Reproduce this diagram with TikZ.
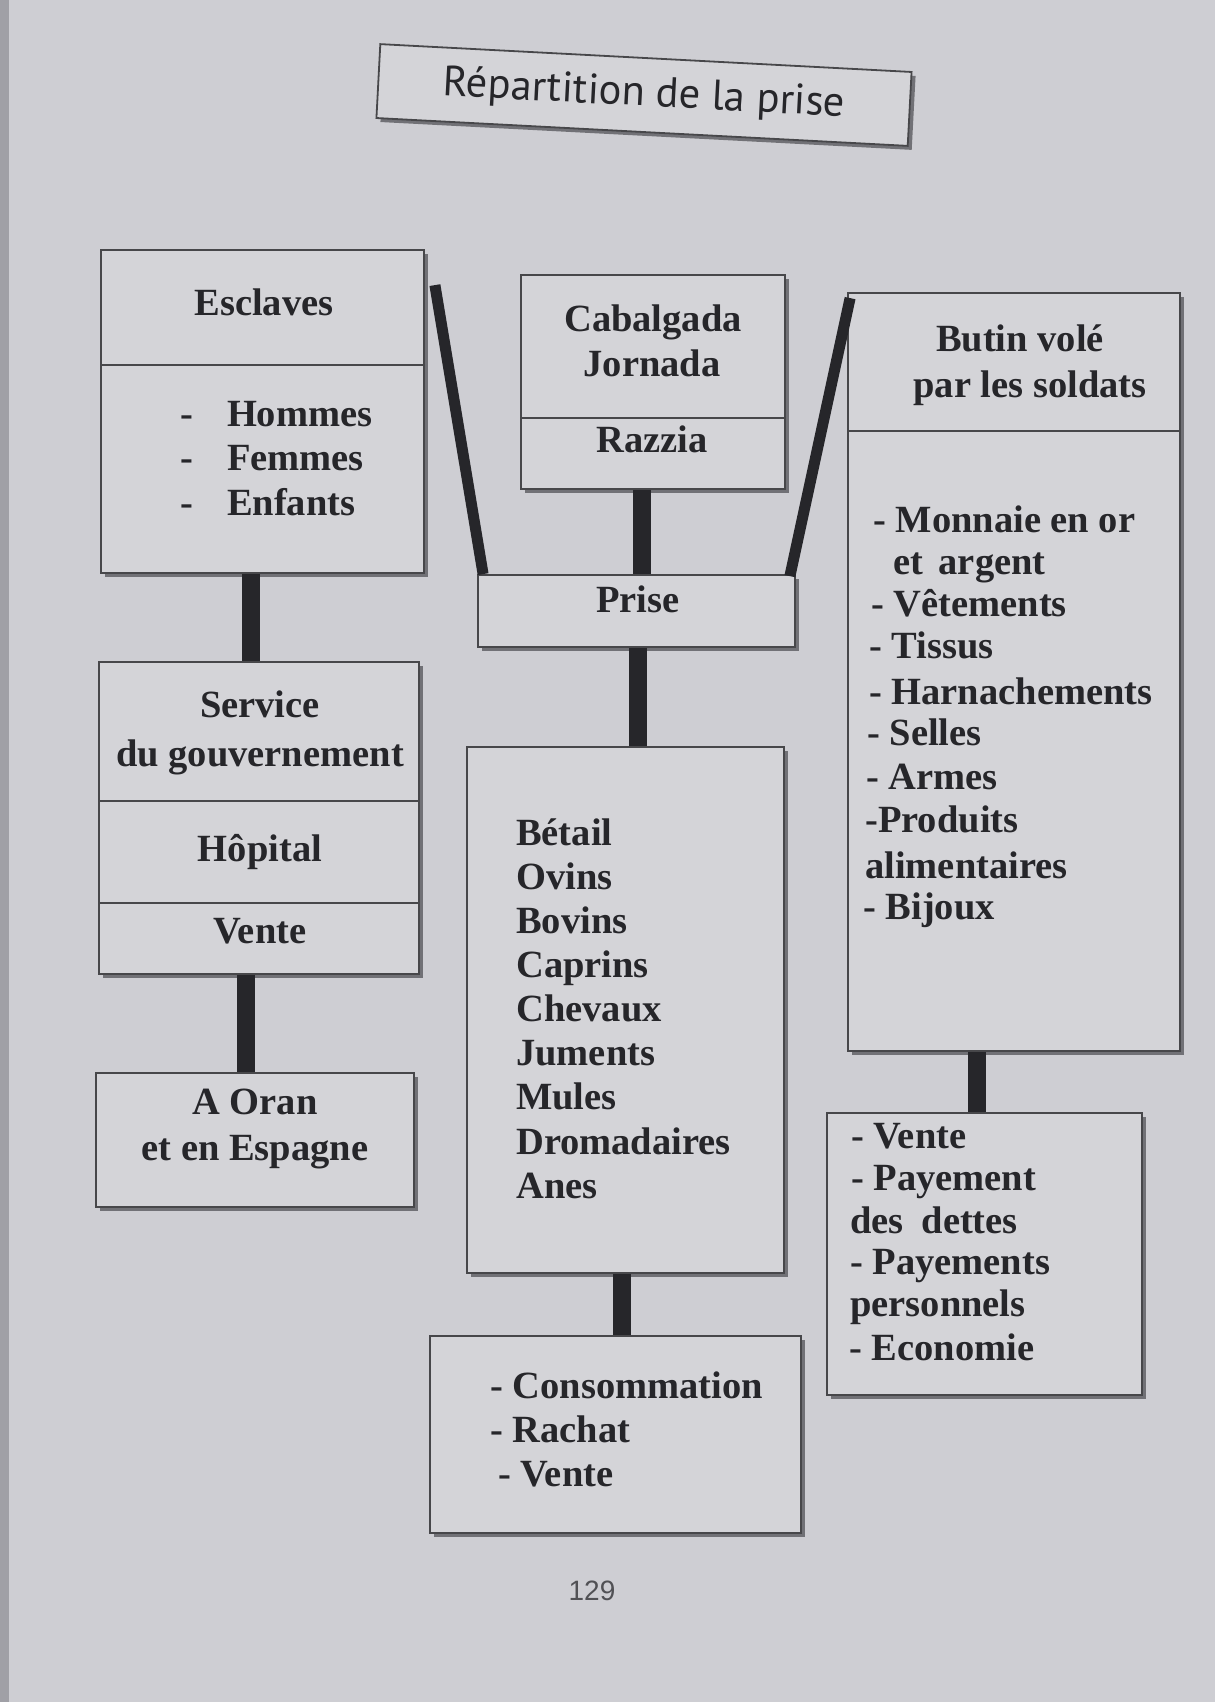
\documentclass[tikz,border=0pt]{standalone}
\usepackage{fontspec}
\setmainfont{Liberation Serif}
\newfontfamily\titlefont{PT Sans}
\newfontfamily\pagenumfont{Liberation Sans}
\usetikzlibrary{shadows,calc}
\definecolor{paper}{RGB}{206,206,211}
\definecolor{boxfill}{RGB}{212,212,216}
\definecolor{ink}{RGB}{38,38,42}
\definecolor{pageedge}{RGB}{160,160,166}
\begin{document}
\begin{tikzpicture}[x=1pt,y=-1pt,
  box/.style={draw=ink!85, line width=1.8pt, fill=boxfill, inner sep=0pt,
     drop shadow={shadow xshift=4pt, shadow yshift=-4pt, fill=ink, opacity=0.55}},
  divider/.style={draw=ink!85, line width=1.8pt},
  link/.style={draw=ink, line width=18pt},
  diag/.style={draw=ink, line width=11pt},
  txt/.style={font=\bfseries\fontsize{38.5}{44}\selectfont, text=ink, inner sep=0pt, text height=27pt, text depth=9pt},
  ltxt/.style={txt, anchor=west},
]
\useasboundingbox (0,0) rectangle (1215,1702);
\fill[paper] (0,0) rectangle (1215,1702);
\fill[pageedge] (0,0) rectangle (9,1702);

% title
\node[box, minimum width=532pt, minimum height=74pt, rotate=-3,
      font=\titlefont\fontsize{42.5}{46}\selectfont, text=ink] (title) at (644,95) {Répartition de la prise};

% boxes
\node[box, minimum width=323pt, minimum height=323pt] (esc) at (262.5,411.5) {};
\node[box, minimum width=320pt, minimum height=312pt] (srv) at (259,818) {};
\node[box, minimum width=318pt, minimum height=134pt] (oran) at (255,1140) {};
\node[box, minimum width=264pt, minimum height=214pt] (cab) at (653,382) {};
\node[box, minimum width=317pt, minimum height=72pt] (prise) at (636.5,611) {};
\node[box, minimum width=317pt, minimum height=526pt] (bet) at (625.5,1010) {};
\node[box, minimum width=371pt, minimum height=197pt] (cons) at (615.5,1434.5) {};
\node[box, minimum width=332pt, minimum height=758pt] (butin) at (1014,672) {};
\node[box, minimum width=315pt, minimum height=282pt] (vente) at (984.5,1254) {};

% dividers
\draw[divider] (esc.west |- 0,365) -- (esc.east |- 0,365);
\draw[divider] (srv.west |- 0,801) -- (srv.east |- 0,801);
\draw[divider] (srv.west |- 0,903) -- (srv.east |- 0,903);
\draw[divider] (cab.west |- 0,418) -- (cab.east |- 0,418);
\draw[divider] (butin.west |- 0,431) -- (butin.east |- 0,431);

% connectors
\draw[link] (esc.south -| 251,0) -- (srv.north -| 251,0);
\draw[link] (srv.south -| 246,0) -- (oran.north -| 246,0);
\draw[link] (cab.south -| 642,0) -- (prise.north -| 642,0);
\draw[link] (prise.south -| 638,0) -- (bet.north -| 638,0);
\draw[link] (bet.south -| 622,0) -- (cons.north -| 622,0);
\draw[link] (butin.south -| 977,0) -- (vente.north -| 977,0);
\draw[diag] ($(esc.north east)+(10,36)$) -- ($(prise.north west)+(6,0)$);
\draw[diag] ($(butin.north west)+(3,6)$) -- ($(prise.north east)+(-6,2)$);

% Esclaves
\node[txt] (t1) at (264,306) {Esclaves};
\node[ltxt] (t2) at (180,417) {-\hspace{34pt}Hommes};
\node[ltxt] (t3) at (180,461) {-\hspace{34pt}Femmes};
\node[ltxt] (t4) at (180,506) {-\hspace{34pt}Enfants};

% Service
\node[txt] (t5) at (260,708) {Service};
\node[txt] (t6) at (260,757) {du gouvernement};
\node[txt] (t7) at (260,852) {Hôpital};
\node[txt] (t8) at (260,934) {Vente};
\node[txt] (t9) at (255,1105) {A Oran};
\node[txt] (t10) at (255,1151) {et en Espagne};

% Cabalgada
\node[txt] (t11) at (653,322) {Cabalgada};
\node[txt] (t12) at (652,367) {Jornada};
\node[txt] (t13) at (652,443) {Razzia};
\node[txt] (t14) at (638,603) {Prise};

% Betail
\foreach \w [count=\i] in {Bétail,Ovins,Bovins,Caprins,Chevaux,Juments,Mules,Dromadaires,Anes}
  \node[ltxt] (b\i) at (516,{836+44.15*(\i-1)}) {\w};

% Consommation
\node[ltxt] (c1) at (490,1389) {- Consommation};
\node[ltxt] (c2) at (490,1433) {- Rachat};
\node[ltxt] (c3) at (498,1477) {- Vente};

% Butin
\node[txt] (u1) at (1020,342) {Butin volé};
\node[txt] (u2) at (1030,388) {par les soldats};
\node[ltxt] (u3) at (873,523) {- Monnaie en or};
\node[ltxt] (u4) at (893,565) {et\hspace{6pt} argent};
\node[ltxt] (u5) at (871,607) {- Vêtements};
\node[ltxt] (u6) at (869,649) {- Tissus};
\node[ltxt] (u7) at (869,695) {- Harnachements};
\node[ltxt] (u8) at (867,736) {- Selles};
\node[ltxt] (u9) at (866,780) {- Armes};
\node[ltxt] (u10) at (865,823) {-Produits};
\node[ltxt] (u11) at (865,869) {alimentaires};
\node[ltxt] (u12) at (863,910) {- Bijoux};

% Vente
\node[ltxt] (v1) at (851,1139) {- Vente};
\node[ltxt] (v2) at (851,1181) {- Payement};
\node[ltxt] (v3) at (850,1224) {des\hspace{18pt}dettes};
\node[ltxt] (v4) at (850,1265) {- Payements};
\node[ltxt] (v5) at (850,1307) {personnels};
\node[ltxt] (v6) at (849,1351) {- Economie};

% page number
\node[font=\pagenumfont\fontsize{28}{30}\selectfont, text=ink!80] (pn) at (592,1591) {129};
\end{tikzpicture}
\end{document}
